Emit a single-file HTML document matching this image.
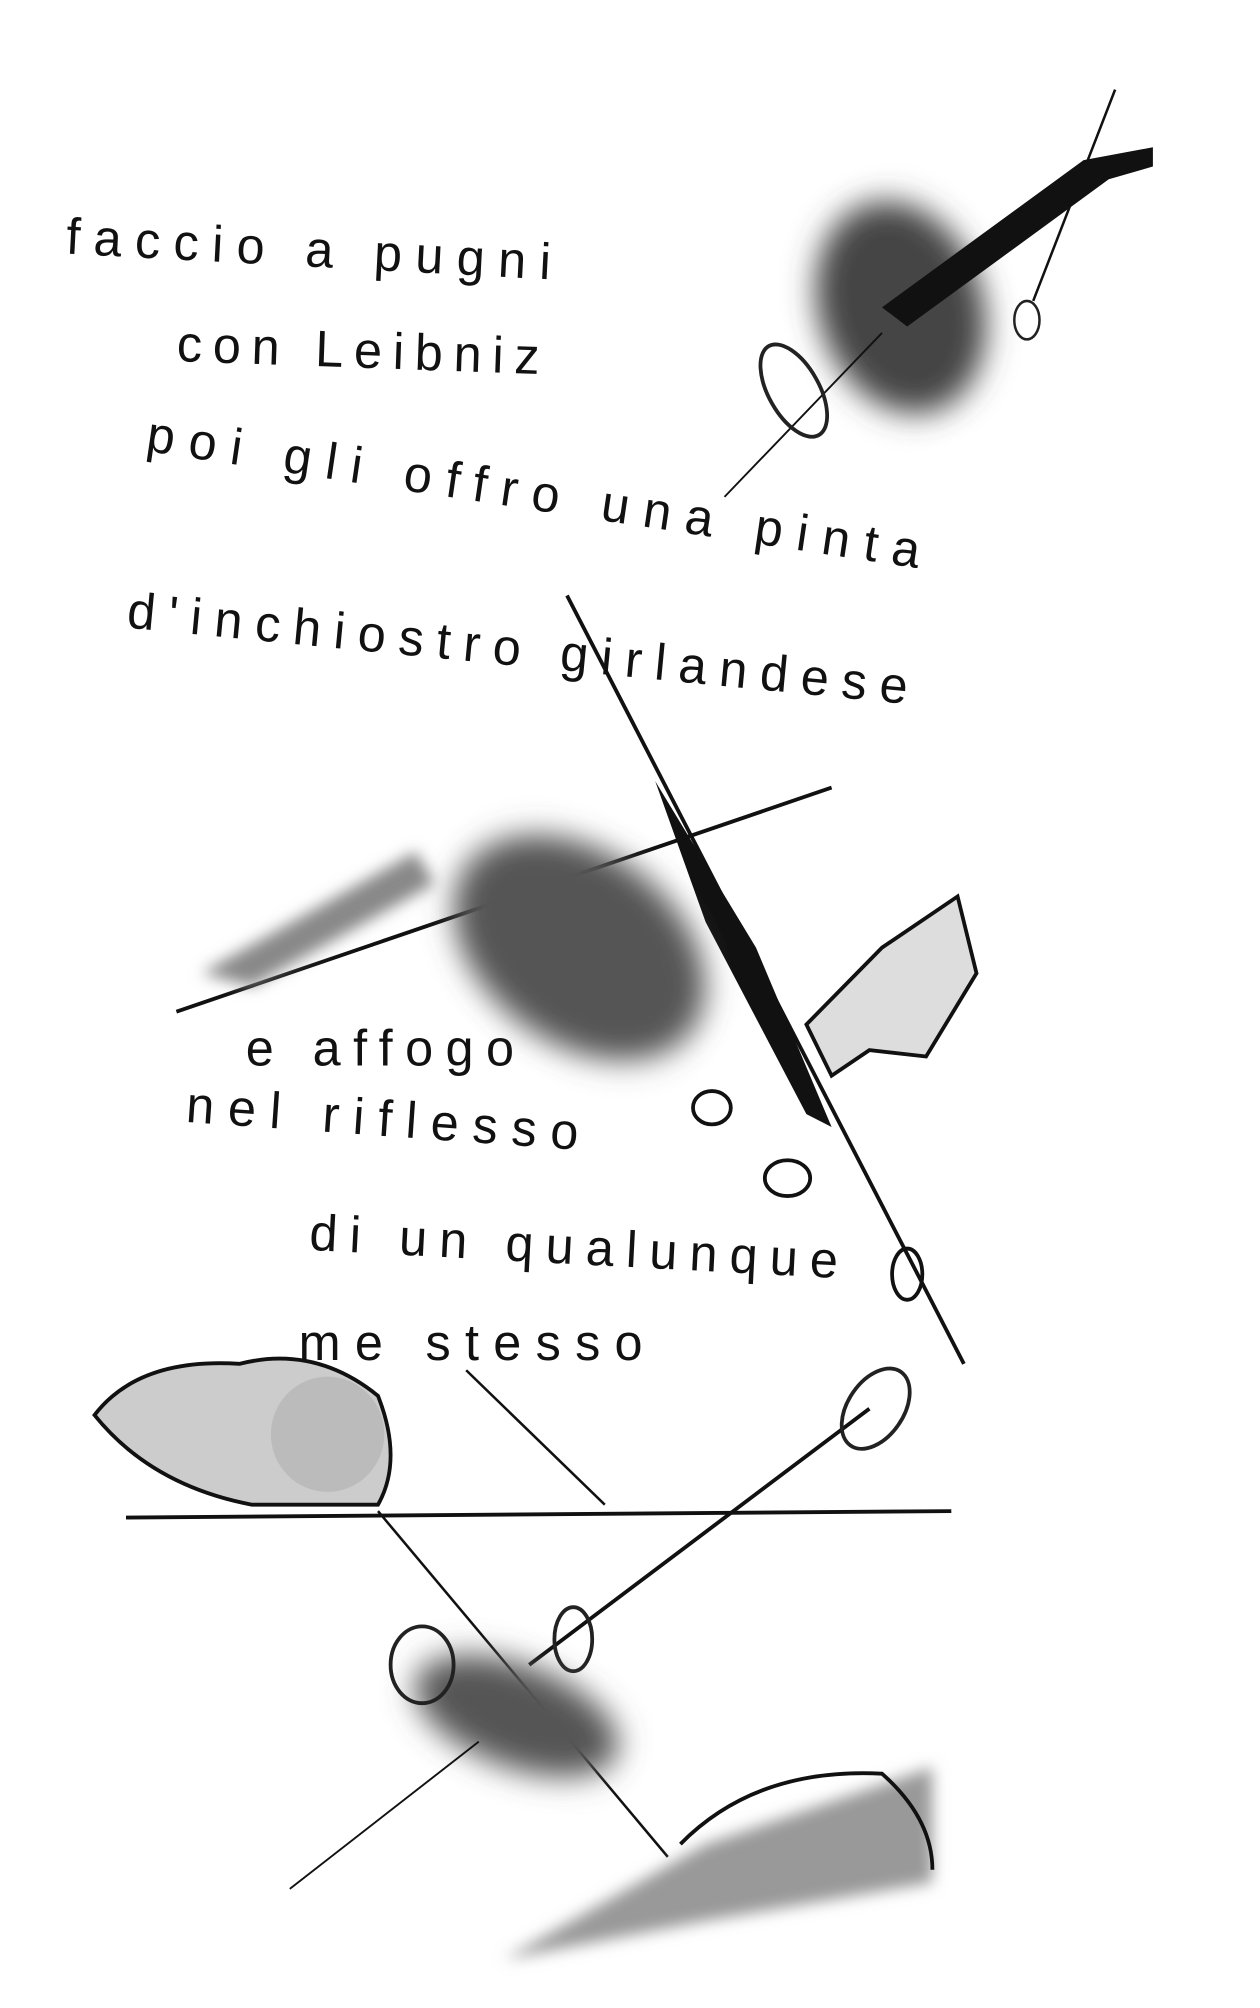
<!DOCTYPE html>
<html><head><meta charset="utf-8"><style>
html,body{margin:0;padding:0;background:#fff;width:1260px;height:2008px;overflow:hidden}
svg{display:block}
text{font-family:"Liberation Sans Narrow","Liberation Sans",sans-serif;fill:#111;font-size:40px}
</style></head><body>
<svg width="1260" height="2008" viewBox="0 0 1000 1568" preserveAspectRatio="none">
<defs>
<filter id="b" x="-50%" y="-50%" width="200%" height="200%"><feGaussianBlur stdDeviation="12"/></filter>
<filter id="b2" x="-50%" y="-50%" width="200%" height="200%"><feGaussianBlur stdDeviation="6"/></filter>
</defs>
<rect width="1000" height="1568" fill="#fff"/>
<text transform="translate(52,198) rotate(3)" textLength="385" lengthAdjust="spacing">faccio a  pugni</text>
<text transform="translate(140,282) rotate(2)" textLength="288" lengthAdjust="spacing">con  Leibniz</text>
<text transform="translate(115,352) rotate(8.5)" textLength="620" lengthAdjust="spacing">poi  gli   offro   una  pinta</text>
<text transform="translate(100,490) rotate(5.5)" textLength="622" lengthAdjust="spacing">d'inchiostro  girlandese</text>
<text transform="translate(195,832) rotate(0)" textLength="213" lengthAdjust="spacing">e affogo</text>
<text transform="translate(147,876) rotate(4)" textLength="312" lengthAdjust="spacing">nel  riflesso</text>
<text transform="translate(245,976) rotate(3)" textLength="420" lengthAdjust="spacing">di  un  qualunque</text>
<text transform="translate(237,1062) rotate(0)" textLength="273" lengthAdjust="spacing">me  stesso</text>
<!-- top drawing -->
<ellipse cx="715" cy="240" rx="65" ry="85" fill="#444" filter="url(#b)" transform="rotate(-20 715 240)"/>
<polygon points="700,240 860,125 915,115 915,130 880,140 720,255" fill="#111"/>
<line x1="885" y1="70" x2="820" y2="235" stroke="#111" stroke-width="2"/>
<line x1="575" y1="388" x2="700" y2="260" stroke="#111" stroke-width="1.5"/>
<ellipse cx="630" cy="305" rx="20" ry="40" fill="none" stroke="#222" stroke-width="3" transform="rotate(-30 630 305)"/>
<ellipse cx="815" cy="250" rx="10" ry="15" fill="none" stroke="#222" stroke-width="2"/>
<!-- middle drawing -->
<line x1="450" y1="465" x2="765" y2="1065" stroke="#111" stroke-width="3"/>
<polygon points="520,610 600,740 660,880 640,870 560,720" fill="#111"/>
<line x1="140" y1="790" x2="660" y2="615" stroke="#111" stroke-width="3"/>
<ellipse cx="460" cy="740" rx="110" ry="75" fill="#555" filter="url(#b)" transform="rotate(35 460 740)"/>
<polygon points="160,760 330,665 345,690 200,770" fill="#888" filter="url(#b2)"/>
<path d="M640,800 L700,740 L760,700 L775,760 L735,825 L690,820 L660,840 Z" fill="#ddd" stroke="#111" stroke-width="3"/>
<ellipse cx="625" cy="920" rx="18" ry="14" fill="none" stroke="#111" stroke-width="3"/>
<ellipse cx="720" cy="995" rx="12" ry="20" fill="none" stroke="#111" stroke-width="3"/>
<ellipse cx="565" cy="865" rx="15" ry="13" fill="none" stroke="#111" stroke-width="3"/>
<!-- bottom-left drawing -->
<path d="M75,1105 Q110,1060 190,1065 Q250,1050 300,1090 Q320,1140 300,1175 L200,1175 Q120,1160 75,1105 Z" fill="#ccc" stroke="#111" stroke-width="3"/>
<ellipse cx="260" cy="1120" rx="45" ry="45" fill="#bbb"/>
<line x1="100" y1="1185" x2="755" y2="1180" stroke="#111" stroke-width="3"/>
<line x1="370" y1="1070" x2="480" y2="1175" stroke="#111" stroke-width="2"/>
<line x1="420" y1="1300" x2="690" y2="1100" stroke="#111" stroke-width="3"/>
<ellipse cx="695" cy="1100" rx="22" ry="35" fill="none" stroke="#222" stroke-width="3" transform="rotate(35 695 1100)"/>
<ellipse cx="455" cy="1280" rx="15" ry="25" fill="none" stroke="#222" stroke-width="3"/>
<line x1="300" y1="1180" x2="530" y2="1450" stroke="#111" stroke-width="2"/>
<ellipse cx="410" cy="1340" rx="85" ry="40" fill="#555" filter="url(#b)" transform="rotate(20 410 1340)"/>
<ellipse cx="335" cy="1300" rx="25" ry="30" fill="none" stroke="#222" stroke-width="3"/>
<line x1="230" y1="1475" x2="380" y2="1360" stroke="#111" stroke-width="1.5"/>
<polygon points="400,1530 560,1440 740,1380 740,1470 560,1500" fill="#999" filter="url(#b2)"/>
<path d="M540,1440 Q600,1380 700,1385 Q740,1420 740,1460" fill="none" stroke="#111" stroke-width="3"/>
</svg>
</body></html>
